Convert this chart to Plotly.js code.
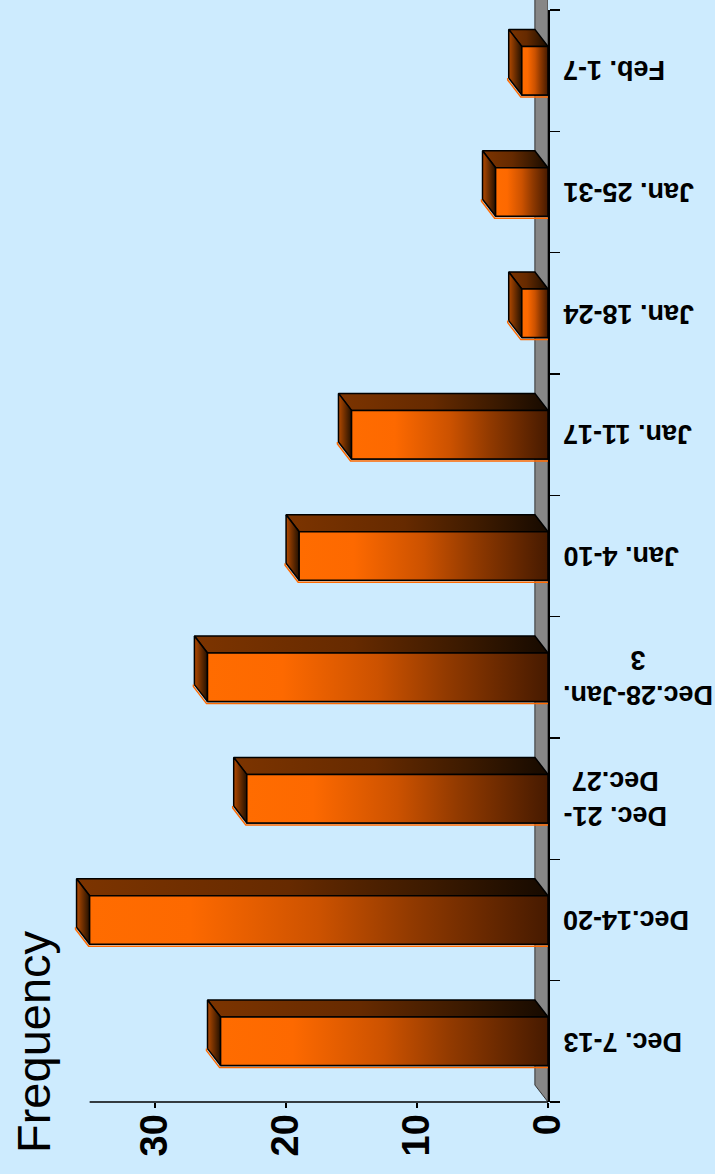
<!DOCTYPE html>
<html>
<head>
<meta charset="utf-8">
<script src="https://cdn.plot.ly/plotly-3.0.1.min.js"></script>
<style>
html,body{margin:0;padding:0;background:#cdebfe;}
#chart{width:715px;height:1174px;}
</style>
</head>
<body>
<div id="chart"></div>
<script>
// ---- data ----
const categories = ['Dec. 7-13', 'Dec.14-20', 'Dec. 21-<br>Dec.27', 'Dec.28-Jan.<br>3',
                    'Jan. 4-10', 'Jan. 11-17', 'Jan. 18-24', 'Jan. 25-31', 'Feb. 1-7'];
const frequency = [25, 35, 23, 26, 19, 15, 2, 4, 2];
const valueTicks = [0, 10, 20, 30];
const valueTickText = ['0', '10', '20', '30'];
const axisMax = 35;
const axisTitle = 'Frequency';

// ---- layout constants ----
const W = 715, H = 1174;
const M = {l: 70, r: 167, t: 10, b: 72};
const plotW = W - M.l - M.r, plotH = H - M.t - M.b;
const xRange = [36.5, 0];
const yRange = [-0.5, categories.length - 0.5];
const barHalf = 0.2;     // half bar thickness (category units)
const depthX = 1.0;      // 3D depth along value axis
const depthY = 0.14;     // 3D depth along category axis
const FONT = 'Liberation Sans, Arial, Helvetica, sans-serif';
const BG = '#cdebfe';

const idx = categories.map((_, i) => i);

const frontScale = [[0, '#ff6c00'], [0.22, '#fd6900'], [0.5, '#cc5200'], [0.7, '#923a00'], [0.85, '#6c2a00'], [1, '#461a00']];
const topScale = [[0, '#7c3400'], [0.45, '#662a00'], [0.75, '#3c1a00'], [1, '#160a00']];
const capScale = [[0, '#b44a00'], [1, '#221000']];

const traces = [];
traces.push({
  type: 'bar', orientation: 'h', x: frequency, y: idx, width: 2 * barHalf,
  marker: {color: '#d05400', line: {color: '#000', width: 1.5}},
  hoverinfo: 'x', showlegend: false
});

function poly(xs, ys, scale) {
  return {
    type: 'scatter', mode: 'lines',
    x: xs.concat([xs[0]]), y: ys.concat([ys[0]]),
    fill: 'toself',
    fillgradient: {type: 'horizontal', colorscale: scale},
    line: {color: '#000', width: 1.5},
    hoverinfo: 'skip', showlegend: false
  };
}

const shadowDy = 2 / (plotH / (yRange[1] - yRange[0]));
const shadowDx = 1 / (plotW / (xRange[0] - xRange[1]));

frequency.forEach((v, i) => {
  const lo = i - barHalf, hi = i + barHalf;
  // soft shadow line under the front face
  traces.push({
    type: 'scatter', mode: 'lines',
    x: [v + depthX + shadowDx, v + depthX + shadowDx, v + shadowDx, 0],
    y: [lo + depthY, lo + depthY - shadowDy, lo - shadowDy, lo - shadowDy],
    line: {color: '#ff6a00', width: 1.5}, hoverinfo: 'skip', showlegend: false
  });
  // top face
  traces.push(poly([0, v, v + depthX, depthX], [hi, hi, hi + depthY, hi + depthY], topScale));
  // end cap
  traces.push(poly([v + depthX, v, v, v + depthX], [lo + depthY, lo, hi, hi + depthY], capScale));
  // front face
  traces.push(poly([v, 0, 0, v], [lo, lo, hi, hi], frontScale));
});

const boundaries = categories.map((_, i) => i - 0.5).concat([categories.length - 0.5]);

const px2paperX = px => (px - M.l) / plotW;
const px2paperY = py => (H - M.b - py) / plotH;

const annotations = categories.map((c, i) => ({
  xref: 'paper', yref: 'y', x: px2paperX(561), y: i,
  xanchor: 'left', yanchor: 'middle', align: 'center',
  text: c, textangle: 180, showarrow: false,
  font: {family: FONT, size: 27, color: '#000', weight: 'bold'}
}));
annotations.push({
  xref: 'paper', yref: 'paper', x: px2paperX(33), y: px2paperY(1042),
  xanchor: 'center', yanchor: 'middle', text: axisTitle, textangle: -90, showarrow: false,
  font: {family: FONT, size: 47, color: '#000'}
});

const dyPaper = depthY * (plotH / (yRange[1] - yRange[0])) / plotH;

const layout = {
  width: W, height: H,
  margin: M,
  paper_bgcolor: BG, plot_bgcolor: BG,
  showlegend: false,
  bargap: 0,
  xaxis: {
    range: xRange, tickvals: valueTicks, ticktext: valueTickText,
    ticks: 'outside', ticklen: 5, tickwidth: 1.5, tickcolor: '#000',
    tickangle: -90, ticklabelstandoff: -9,
    tickfont: {family: FONT, size: 38, color: '#000', weight: 'bold'},
    showline: false, showgrid: false, zeroline: false, fixedrange: true
  },
  yaxis: {
    range: yRange, side: 'right',
    tickvals: boundaries, ticks: 'outside', ticklen: 10, tickwidth: 1.5, tickcolor: '#000',
    showticklabels: false,
    showline: true, linecolor: '#000', linewidth: 1.5,
    showgrid: false, zeroline: false, fixedrange: true
  },
  shapes: [
    { // side wall behind category axis
      type: 'path', xref: 'x', yref: 'paper', layer: 'below',
      path: `M 0,0 L ${depthX},${dyPaper} L ${depthX},${1 + 2 * dyPaper} L 0,${1 + 2 * dyPaper} Z`,
      fillcolor: '#878787', line: {color: '#333', width: 1}
    },
    { // value axis line
      type: 'line', xref: 'x', yref: 'paper', layer: 'above',
      x0: 0, x1: axisMax, y0: 0, y1: 0,
      line: {color: '#000', width: 1.5}
    }
  ],
  annotations: annotations
};

Plotly.newPlot('chart', traces, layout, {displayModeBar: false, staticPlot: true});
</script>
</body>
</html>
